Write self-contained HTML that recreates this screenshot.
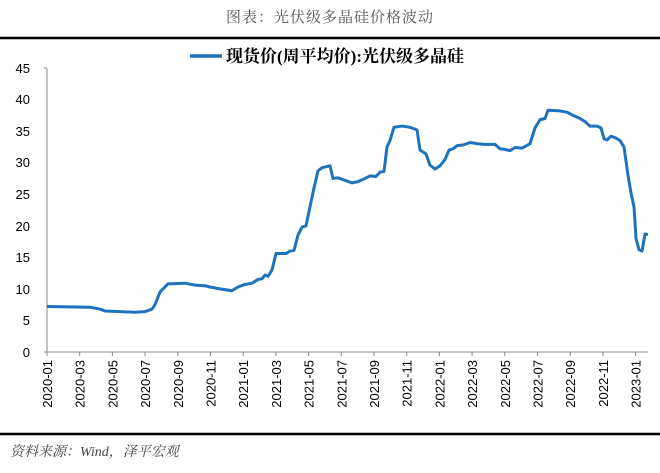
<!DOCTYPE html>
<html><head><meta charset="utf-8"><style>
body{margin:0;background:#fff;width:660px;height:468px;overflow:hidden}
text{font-family:"Liberation Sans","Noto Sans CJK SC",sans-serif}
text.s{font-family:"Liberation Serif","Noto Serif CJK SC",serif}
</style></head><body>
<svg width="660" height="468" xmlns="http://www.w3.org/2000/svg">
<text class="s" x="330" y="22" text-anchor="middle" font-size="15" fill="#555" letter-spacing="1">图表：光伏级多晶硅价格波动</text>
<line x1="0" y1="38" x2="660" y2="38" stroke="#000" stroke-width="2.5"/>
<line x1="190" y1="56" x2="222" y2="56" stroke="#1f6fb8" stroke-width="3.5"/>
<text class="s" x="226" y="62" font-size="17" font-weight="bold" fill="#000">现货价(周平均价):光伏级多晶硅</text>
<g font-size="13" fill="#000" text-anchor="end">
<text x="30" y="73">45</text><text x="30" y="104">40</text><text x="30" y="136">35</text><text x="30" y="167">30</text><text x="30" y="199">25</text><text x="30" y="231">20</text><text x="30" y="262">15</text><text x="30" y="294">10</text><text x="30" y="325">5</text><text x="30" y="357">0</text>
</g>
<line x1="47" y1="68" x2="47" y2="352" stroke="#888"/>
<line x1="44" y1="68" x2="47" y2="68" stroke="#888"/>
<line x1="44" y1="352" x2="648" y2="352" stroke="#888"/>
<g font-size="13" fill="#000" text-anchor="end">
<text transform="translate(52,360) rotate(-90)">2020-01</text>
<text transform="translate(84.7,360) rotate(-90)">2020-03</text>
<text transform="translate(117.4,360) rotate(-90)">2020-05</text>
<text transform="translate(150.1,360) rotate(-90)">2020-07</text>
<text transform="translate(182.8,360) rotate(-90)">2020-09</text>
<text transform="translate(215.5,360) rotate(-90)">2020-11</text>
<text transform="translate(248.2,360) rotate(-90)">2021-01</text>
<text transform="translate(280.9,360) rotate(-90)">2021-03</text>
<text transform="translate(313.6,360) rotate(-90)">2021-05</text>
<text transform="translate(346.3,360) rotate(-90)">2021-07</text>
<text transform="translate(379,360) rotate(-90)">2021-09</text>
<text transform="translate(411.7,360) rotate(-90)">2021-11</text>
<text transform="translate(444.4,360) rotate(-90)">2022-01</text>
<text transform="translate(477.1,360) rotate(-90)">2022-03</text>
<text transform="translate(509.8,360) rotate(-90)">2022-05</text>
<text transform="translate(542.5,360) rotate(-90)">2022-07</text>
<text transform="translate(575.2,360) rotate(-90)">2022-09</text>
<text transform="translate(607.9,360) rotate(-90)">2022-11</text>
<text transform="translate(640.6,360) rotate(-90)">2023-01</text>
</g>
<g stroke="#888">
<line x1="47" y1="352" x2="47" y2="356"/><line x1="79.7" y1="352" x2="79.7" y2="356"/><line x1="112.4" y1="352" x2="112.4" y2="356"/><line x1="145.1" y1="352" x2="145.1" y2="356"/><line x1="177.8" y1="352" x2="177.8" y2="356"/><line x1="210.5" y1="352" x2="210.5" y2="356"/><line x1="243.2" y1="352" x2="243.2" y2="356"/><line x1="275.9" y1="352" x2="275.9" y2="356"/><line x1="308.6" y1="352" x2="308.6" y2="356"/><line x1="341.3" y1="352" x2="341.3" y2="356"/><line x1="374" y1="352" x2="374" y2="356"/><line x1="406.7" y1="352" x2="406.7" y2="356"/><line x1="439.4" y1="352" x2="439.4" y2="356"/><line x1="472.1" y1="352" x2="472.1" y2="356"/><line x1="504.8" y1="352" x2="504.8" y2="356"/><line x1="537.5" y1="352" x2="537.5" y2="356"/><line x1="570.2" y1="352" x2="570.2" y2="356"/><line x1="602.9" y1="352" x2="602.9" y2="356"/><line x1="635.6" y1="352" x2="635.6" y2="356"/>
</g>
<g transform="translate(0,352) scale(1,-6.311)">
<polyline fill="none" stroke="#1f72bd" stroke-width="3" vector-effect="non-scaling-stroke" stroke-linejoin="round" points="47,7.2 90,7.1 100,6.8 105,6.5 120,6.4 135,6.3 145,6.4 152,6.8 155,7.5 160,9.5 168,10.8 185,10.9 195,10.6 205,10.5 210,10.3 220,10.0 232,9.7 238,10.3 245,10.7 252,10.9 258,11.5 262,11.6 265,12.2 268,12.0 272,13.0 276,15.6 286,15.6 290,16.0 294,16.1 298,18.5 302,19.8 306,20 310,23 314,26 318,28.7 322,29.2 330,29.5 333,27.5 338,27.6 345,27.2 352,26.8 358,27.0 365,27.5 370,27.9 376,27.8 380,28.5 384,28.6 387,32.5 390,33.5 394,35.6 402,35.8 410,35.6 417,35.2 420,32 426,31.4 430,29.6 435,29.0 440,29.5 445,30.5 449,32.0 453,32.2 457,32.7 463,32.8 470,33.2 478,33.0 485,32.9 495,32.9 500,32.2 505,32.1 510,31.9 515,32.4 522,32.3 530,33 535,35.5 540,36.8 545,37.0 548,38.3 560,38.2 567,38.0 573,37.5 580,37.0 585,36.5 590,35.8 597,35.8 601,35.5 604,33.8 607,33.6 611,34.2 616,33.9 620,33.5 624,32.5 628,28 631,25.2 634,23 636,18 639,16.2 642,16 645,18.7 648,18.6"/>
</g>
<line x1="0" y1="434" x2="660" y2="434" stroke="#000" stroke-width="2.5"/>
<text class="s" x="10" y="456" font-size="14" fill="#444" font-style="italic">资料来源：Wind，泽平宏观</text>
</svg>
</body></html>
